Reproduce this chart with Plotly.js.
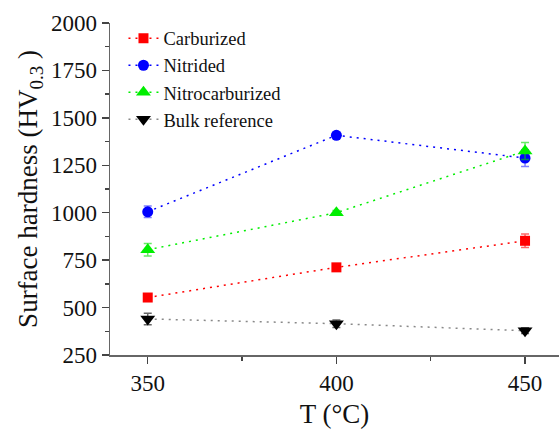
<!DOCTYPE html>
<html>
<head>
<meta charset="utf-8">
<script src="https://cdn.plot.ly/plotly-3.0.1.min.js"></script>
<style>html,body{margin:0;padding:0;background:#fff;}#chart{width:560px;height:431px;}</style>
</head>
<body>
<div id="chart"></div>
<script>
const temps = [350, 400, 450];
const carburized = [553, 712, 852];
const carburizedErr = [12, 12, 36];
const nitrided = [1005, 1408, 1288];
const nitridedErr = [30, 15, 44];
const nitrocarburized = [805, 1000, 1325];
const nitrocarburizedErr = [33, 12, 45];
const bulk = [440, 415, 378];
const bulkErr = [30, 20, 15];
const seriesNames = ["Carburized", "Nitrided", "Nitrocarburized", "Bulk reference"];

const serif = '"Liberation Serif", serif';

function mk(name, y, err, lineColor, markerColor, symbol, size, errColor) {
  return {
    x: temps, y: y, name: name, type: 'scatter', mode: 'lines+markers',
    line: {color: lineColor, width: 1.5, dash: '2px,5px'},
    marker: {color: markerColor, symbol: symbol, size: size},
    error_y: {type: 'data', array: err, visible: true, color: errColor, thickness: 1.5, width: 4}
  };
}

const data = [
  mk(seriesNames[0], carburized, carburizedErr, '#ff0000', '#ff0000', 'square', 10, 'rgba(255,0,0,0.6)'),
  mk(seriesNames[1], nitrided, nitridedErr, '#0000ff', '#0000ff', 'circle', 11, 'rgba(0,0,255,0.5)'),
  mk(seriesNames[2], nitrocarburized, nitrocarburizedErr, '#00ee00', '#00ee00', 'triangle-up', 13, 'rgba(0,220,0,0.6)'),
  mk(seriesNames[3], bulk, bulkErr, '#888888', '#000000', 'triangle-down', 13, 'rgba(0,0,0,0.6)')
];

const axLine = '#666666';
const layout = {
  width: 560, height: 431,
  margin: {l: 110, r: 1, t: 23, b: 76},
  paper_bgcolor: '#ffffff', plot_bgcolor: '#ffffff',
  font: {family: serif, color: '#111'},
  showlegend: true,
  legend: {x: 0.03, y: 1.01, xanchor: 'left', yanchor: 'top', bgcolor: 'rgba(0,0,0,0)', font: {family: serif, size: 18.5, color: '#111'}},
  xaxis: {
    range: [340, 459], tickvals: [350, 400, 450], ticks: 'outside', ticklen: 7, tickwidth: 1.5, tickcolor: '#444',
    minor: {tickvals: [375, 425], ticks: 'outside', ticklen: 4, tickcolor: '#444'},
    showline: true, linecolor: axLine, linewidth: 1.5, showgrid: false, zeroline: false,
    tickfont: {family: serif, size: 23, color: '#111'},
    title: {text: 'T (°C)', font: {family: serif, size: 27, color: '#111'}, standoff: 9}
  },
  yaxis: {
    range: [250, 2000], dtick: 250, ticks: 'outside', ticklen: 7, tickwidth: 1.5, tickcolor: '#444',
    minor: {dtick: 125, ticks: 'outside', ticklen: 4, tickcolor: '#444'},
    showline: true, linecolor: axLine, linewidth: 1.5, showgrid: false, zeroline: false,
    tickfont: {family: serif, size: 23, color: '#111'},
    title: {text: 'Surface hardness (HV<sub>0.3</sub> )', font: {family: serif, size: 27, color: '#111'}, standoff: 5}
  },
  xaxis2: {
    overlaying: 'x', side: 'top', matches: 'x', range: [340, 459], tickvals: [350, 400, 450], ticks: 'inside', ticklen: 7, tickwidth: 1.5, tickcolor: '#444',
    minor: {tickvals: [375, 425], ticks: 'inside', ticklen: 4, tickcolor: '#444'},
    showticklabels: false, showline: true, linecolor: axLine, linewidth: 1.5, showgrid: false, zeroline: false
  },
  yaxis2: {
    overlaying: 'y', side: 'right', range: [250, 2000], dtick: 250, ticks: 'inside', ticklen: 7, tickwidth: 1.5, tickcolor: '#444',
    minor: {dtick: 125, ticks: 'inside', ticklen: 4, tickcolor: '#444'},
    showticklabels: false, showline: true, linecolor: axLine, linewidth: 1.5, showgrid: false, zeroline: false
  }
};

Plotly.newPlot('chart', data, layout, {displayModeBar: false, staticPlot: true});
</script>
</body>
</html>
